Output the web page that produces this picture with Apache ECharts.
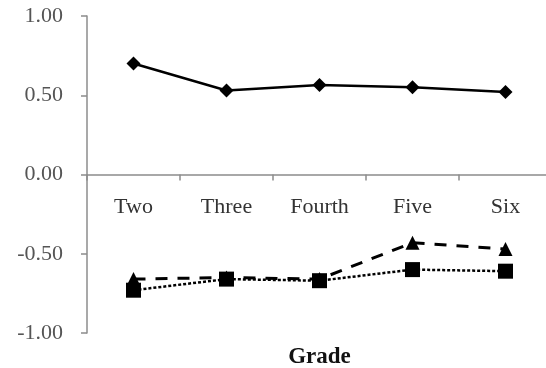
<!DOCTYPE html>
<html>
<head>
<meta charset="utf-8">
<script src="https://cdn.jsdelivr.net/npm/echarts@6/dist/echarts.min.js"></script>
<style>
html,body{margin:0;padding:0;background:#fff;}
#c{width:546px;height:368px;}
</style>
</head>
<body>
<div id="c"></div>
<script>
var categories = ['Two', 'Three', 'Fourth', 'Five', 'Six'];
var seriesDiamond = [0.70, 0.53, 0.565, 0.55, 0.52];
var seriesTriangle = [-0.66, -0.65, -0.66, -0.43, -0.47];
var seriesSquare = [-0.73, -0.66, -0.67, -0.60, -0.61];
var yTicks = [-1, -0.5, 0, 0.5, 1];

var font = '"Liberation Serif", "Times New Roman", serif';
var gridTop = 16, gridBottom = 35, H = 368;
var plotH = H - gridTop - gridBottom;
var chart = echarts.init(document.getElementById('c'), null, {renderer: 'canvas'});
chart.setOption({
  animation: false,
  backgroundColor: '#ffffff',
  grid: {left: 87, right: -6, top: gridTop, bottom: gridBottom, containLabel: false, outerBoundsMode: 'none'},
  xAxis: {
    type: 'category',
    data: categories,
    boundaryGap: true,
    position: 'bottom',
    offset: -plotH / 2,
    name: 'Grade',
    nameLocation: 'middle',
    nameGap: 171,
    nameTextStyle: {fontFamily: font, fontSize: 23, fontWeight: 'bold', color: '#111'},
    axisLine: {onZero: false, lineStyle: {color: '#8c8c8c', width: 1.5}},
    axisTick: {show: true, alignWithLabel: false, length: 6, lineStyle: {color: '#8c8c8c', width: 1.5}},
    axisLabel: {fontFamily: font, fontSize: 22, color: '#333333', margin: 22},
    splitLine: {show: false}
  },
  yAxis: {
    type: 'value',
    min: yTicks[0],
    max: yTicks[yTicks.length - 1],
    interval: 0.5,
    axisLine: {show: true, lineStyle: {color: '#8c8c8c', width: 1.5}},
    axisTick: {show: true, length: 6, lineStyle: {color: '#8c8c8c', width: 1.5}},
    axisLabel: {fontFamily: font, fontSize: 22, color: '#555555', margin: 24,
      formatter: function (v) { return v.toFixed(2); }},
    splitLine: {show: false}
  },
  series: [
    {
      type: 'line', data: seriesDiamond, symbol: 'diamond', symbolSize: 14,
      itemStyle: {color: '#000'}, lineStyle: {color: '#000', width: 2.5, type: 'solid'}, z: 3
    },
    {
      type: 'line', data: seriesTriangle, symbol: 'triangle', symbolSize: 14,
      itemStyle: {color: '#000'}, lineStyle: {color: '#000', width: 3, type: [12, 10]}, z: 4
    },
    {
      type: 'line', data: seriesSquare, symbol: 'rect', symbolSize: 15,
      itemStyle: {color: '#000'}, lineStyle: {color: '#000', width: 2.5, type: [3, 2]}, z: 5
    }
  ]
});
</script>
</body>
</html>
